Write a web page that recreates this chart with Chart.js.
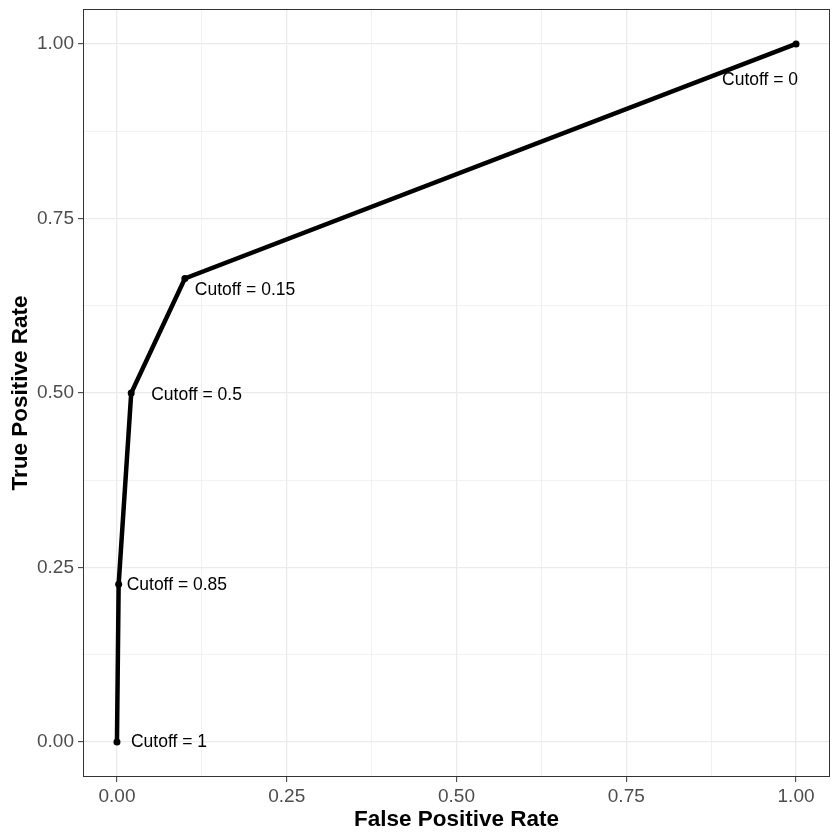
<!DOCTYPE html>
<html>
<head>
<meta charset="utf-8">
<script src="https://cdn.jsdelivr.net/npm/chart.js@4/dist/chart.umd.min.js"></script>
<style>
  html, body { margin: 0; padding: 0; background: #ffffff; }
  #wrap { width: 840px; height: 840px; }
</style>
</head>
<body>
<div id="wrap"><canvas id="c" width="840" height="840"></canvas></div>
<script>
// ---- data ----
const cutoffs = ['1', '0.85', '0.5', '0.15', '0'];
const fpr = [0, 0.0025, 0.021, 0.1, 1];
const tpr = [0, 0.226, 0.5, 0.664, 1];
const majorTicks = [0, 0.25, 0.5, 0.75, 1];
const allGridTicks = [0, 0.125, 0.25, 0.375, 0.5, 0.625, 0.75, 0.875, 1];
const xTitle = 'False Positive Rate';
const yTitle = 'True Positive Rate';

// label placement (pixel offsets from each point, style only)
const labelDx = [14, 8, 20, 10, -74];
const labelDy = [0, 1, 2, 12, 36];

const points = fpr.map((x, i) => ({ x: x, y: tpr[i] }));
const isMajor = v => majorTicks.some(m => Math.abs(m - v) < 1e-9);

const FONT = "'Liberation Sans', Arial, sans-serif";

const labelPlugin = {
  id: 'cutoffLabels',
  afterDatasetsDraw(chart) {
    const ctx = chart.ctx;
    const meta = chart.getDatasetMeta(0);
    ctx.save();
    ctx.font = '17.5px ' + FONT;
    ctx.fillStyle = '#000000';
    ctx.textAlign = 'left';
    ctx.textBaseline = 'middle';
    meta.data.forEach((pt, i) => {
      ctx.fillText('Cutoff = ' + cutoffs[i], pt.x + labelDx[i], pt.y + labelDy[i]);
    });
    ctx.restore();
  }
};

const borderPlugin = {
  id: 'panelBorder',
  afterDraw(chart) {
    const a = chart.chartArea;
    const ctx = chart.ctx;
    ctx.save();
    ctx.strokeStyle = '#333333';
    ctx.lineWidth = 1;
    ctx.strokeRect(Math.round(a.left) + 0.5, Math.round(a.top) + 0.5,
                   Math.round(a.right - a.left) - 1, Math.round(a.bottom - a.top) - 1);
    ctx.restore();
  }
};

function gridOpts() {
  return {
    color: '#ebebeb',
    lineWidth: c => (c.tick && isMajor(c.tick.value)) ? 1.3 : 0.7,
    drawTicks: true,
    tickLength: 5,
    tickColor: c => (c.tick && isMajor(c.tick.value)) ? '#333333' : 'rgba(0,0,0,0)',
    tickWidth: 1
  };
}

new Chart(document.getElementById('c'), {
  type: 'line',
  data: {
    datasets: [{
      data: points,
      borderColor: '#000000',
      backgroundColor: '#000000',
      borderWidth: 4.5,
      pointRadius: 3.5,
      pointBackgroundColor: '#000000',
      pointBorderWidth: 0,
      tension: 0,
      fill: false
    }]
  },
  options: {
    responsive: false,
    animation: false,
    events: [],
    layout: { padding: { top: 9, right: 10, left: 0, bottom: 0 } },
    plugins: { legend: { display: false }, tooltip: { enabled: false } },
    scales: {
      x: {
        type: 'linear',
        min: -0.05, max: 1.05,
        afterBuildTicks: s => { s.ticks = allGridTicks.map(v => ({ value: v })); },
        afterFit: s => { s.height = 63; s.paddingLeft = 0; s.paddingRight = 0; },
        grid: gridOpts(),
        border: { display: false },
        ticks: {
          padding: 3,
          color: '#4d4d4d',
          font: { family: FONT, size: 19 },
          maxRotation: 0,
          autoSkip: false,
          callback: v => isMajor(v) ? v.toFixed(2) : ''
        },
        title: {
          display: true, text: xTitle, color: '#000000',
          font: { family: FONT, size: 22.5, weight: 'bold' },
          padding: { top: 0, bottom: 7 }
        }
      },
      y: {
        type: 'linear',
        min: -0.05, max: 1.05,
        afterBuildTicks: s => { s.ticks = allGridTicks.map(v => ({ value: v })); },
        afterFit: s => { s.width = 83; s.paddingTop = 0; s.paddingBottom = 0; },
        grid: gridOpts(),
        border: { display: false },
        ticks: {
          padding: 4,
          color: '#4d4d4d',
          font: { family: FONT, size: 19 },
          autoSkip: false,
          callback: v => isMajor(v) ? v.toFixed(2) : ''
        },
        title: {
          display: true, text: yTitle, color: '#000000',
          font: { family: FONT, size: 22.5, weight: 'bold' },
          padding: { top: 7, bottom: 0 }
        }
      }
    }
  },
  plugins: [labelPlugin, borderPlugin]
});
</script>
</body>
</html>
